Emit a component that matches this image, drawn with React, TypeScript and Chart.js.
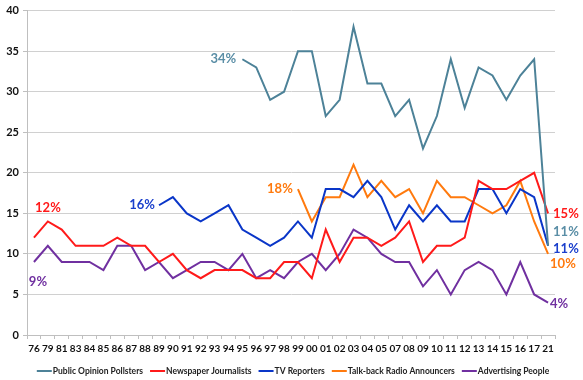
import React, { useEffect, useRef } from "react";
import { Chart, registerables } from "chart.js";

Chart.register(...registerables);

const years = ["76","79","81","83","84","85","86","87","88","89","90","91","92","93","94","95","96","97","98","99","00","01","02","03","04","05","07","08","09","10","11","12","13","14","15","16","17","21"];

const N = null;
const pollsters = [N,N,N,N,N,N,N,N,N,N,N,N,N,N,N,34,33,29,30,35,35,27,29,38,31,31,27,29,23,27,34,28,33,32,29,32,34,11];
const journalists = [12,14,13,11,11,11,12,11,11,9,10,8,7,8,8,8,7,7,9,9,7,13,9,12,12,11,12,14,9,11,11,12,19,18,18,19,20,15];
const tvReporters = [N,N,N,N,N,N,N,N,N,16,17,15,14,15,16,13,12,11,12,14,12,18,18,17,19,17,13,16,14,16,14,14,18,18,15,18,17,11];
const talkback = [N,N,N,N,N,N,N,N,N,N,N,N,N,N,N,N,N,N,N,18,14,17,17,21,17,19,17,18,15,19,17,17,16,15,16,19,14,10];
const advertising = [9,11,9,9,9,8,11,11,8,9,7,8,9,9,8,10,7,8,7,9,10,8,10,13,12,10,9,9,6,8,5,8,9,8,5,9,5,4];

const seriesNames = ["Public Opinion Pollsters","Newspaper Journalists","TV Reporters","Talk-back Radio Announcers","Advertising People"];
const seriesColors = ["#4d8298","#ff1a1a","#0a36c8","#ff7a0e","#7030a0"];
const labelColors = ["#5a8ea6","#ff1a1a","#1a3fcc","#ff7a0e","#7030a0"];
const seriesData = [pollsters, journalists, tvReporters, talkback, advertising];

const startLabels = ["34%","12%","16%","18%","9%"];
const endLabels = ["11%","15%","11%","10%","4%"];
// label offsets in px relative to the first / last point
const startDx = [-19, 14, -17, -18, 4];
const startDy = [0, -30, 0, 0, 20];
const endDx = [5, 5, 5, 2, 2];
const endDy = [-14, 0, 3, 10, 1];

const FONT = "Lato, 'Open Sans', sans-serif";

const labelPlugin = {
  id: "pctLabels",
  afterDatasetsDraw(chart: any) {
    const { ctx, scales } = chart;
    const xs = scales.x, ys = scales.y;
    ctx.save();
    ctx.font = `bold 13px ${FONT}`;
    ctx.textBaseline = "middle";
    seriesData.forEach((arr, i) => {
      const first = arr.findIndex((v) => v !== null);
      const last = arr.length - 1;
      ctx.fillStyle = labelColors[i];
      const sx = xs.getPixelForValue(first);
      const sy = ys.getPixelForValue(arr[first] as number);
      ctx.textAlign = "center";
      ctx.fillText(startLabels[i], sx + startDx[i], sy + startDy[i]);
      const ex = xs.getPixelForValue(last);
      const ey = ys.getPixelForValue(arr[last] as number);
      ctx.textAlign = "left";
      ctx.fillText(endLabels[i], ex + endDx[i], ey + endDy[i]);
    });
    ctx.restore();
  },
};

const legendPlugin = {
  id: "lineLegend",
  afterDraw(chart: any) {
    const { ctx } = chart;
    const sample = 15, gap = 1, itemGap = 7, maxW = 521;
    let size = 10.5;
    let widths: number[] = [];
    let total = 0;
    ctx.save();
    while (size > 6) {
      ctx.font = `bold ${size}px ${FONT}`;
      widths = seriesNames.map((n) => ctx.measureText(n).width);
      total = widths.reduce((a, b) => a + b, 0) + seriesNames.length * (sample + gap) + (seriesNames.length - 1) * itemGap;
      if (total <= maxW) break;
      size -= 0.25;
    }
    let x = 293 - total / 2;
    const y = 371;
    ctx.textBaseline = "middle";
    ctx.textAlign = "left";
    seriesNames.forEach((n, i) => {
      ctx.strokeStyle = seriesColors[i];
      ctx.lineWidth = 2;
      ctx.beginPath();
      ctx.moveTo(x, y);
      ctx.lineTo(x + sample, y);
      ctx.stroke();
      x += sample + gap;
      ctx.fillStyle = "#222";
      ctx.fillText(n, x, y);
      x += widths[i] + itemGap;
    });
    ctx.restore();
  },
};

export default function App() {
  const ref = useRef<HTMLCanvasElement | null>(null);
  useEffect(() => {
    if (!ref.current) return;
    const chart = new Chart(ref.current, {
      type: "line",
      data: {
        labels: years,
        datasets: seriesData.map((d, i) => ({
          label: seriesNames[i],
          data: d,
          borderColor: seriesColors[i],
          backgroundColor: seriesColors[i],
          borderWidth: 2,
          pointRadius: 0,
          tension: 0,
          fill: false,
        })),
      },
      options: {
        animation: false,
        responsive: true,
        maintainAspectRatio: false,
        layout: { padding: { top: 2, right: 28, left: 0, bottom: 21 } },
        plugins: {
          tooltip: { enabled: false },
          legend: { display: false },
        },
        scales: {
          x: {
            offset: true,
            grid: {
              offset: true,
              drawOnChartArea: false,
              drawTicks: true,
              tickLength: 4,
              tickColor: "#bfbfbf",
            },
            border: { color: "#bfbfbf", width: 1 },
            ticks: {
              autoSkip: false,
              maxRotation: 0,
              minRotation: 0,
              padding: 4,
              color: "#111",
              font: { family: FONT, size: 10, weight: "bold" },
            },
            afterFit: (s: any) => { s.height = 24; },
          },
          y: {
            min: 0,
            max: 40,
            ticks: {
              stepSize: 5,
              padding: 4,
              color: "#111",
              font: { family: FONT, size: 11, weight: "bold" },
            },
            grid: {
              color: "#d0d0d0",
              tickColor: "#bfbfbf",
              tickLength: 4,
              drawTicks: true,
              lineWidth: 1,
              borderDash: [2, 2],
              tickBorderDash: [],
            } as any,
            border: { color: "#bfbfbf", width: 1 },
            afterFit: (s: any) => { s.width = 27; },
          },
        },
      },
      plugins: [labelPlugin, legendPlugin],
    } as any);
    return () => chart.destroy();
  }, []);
  return (
    <div style={{ position: "fixed", left: 0, top: 0, width: 583, height: 380, background: "#fff" }}>
      <canvas ref={ref} />
    </div>
  );
}
